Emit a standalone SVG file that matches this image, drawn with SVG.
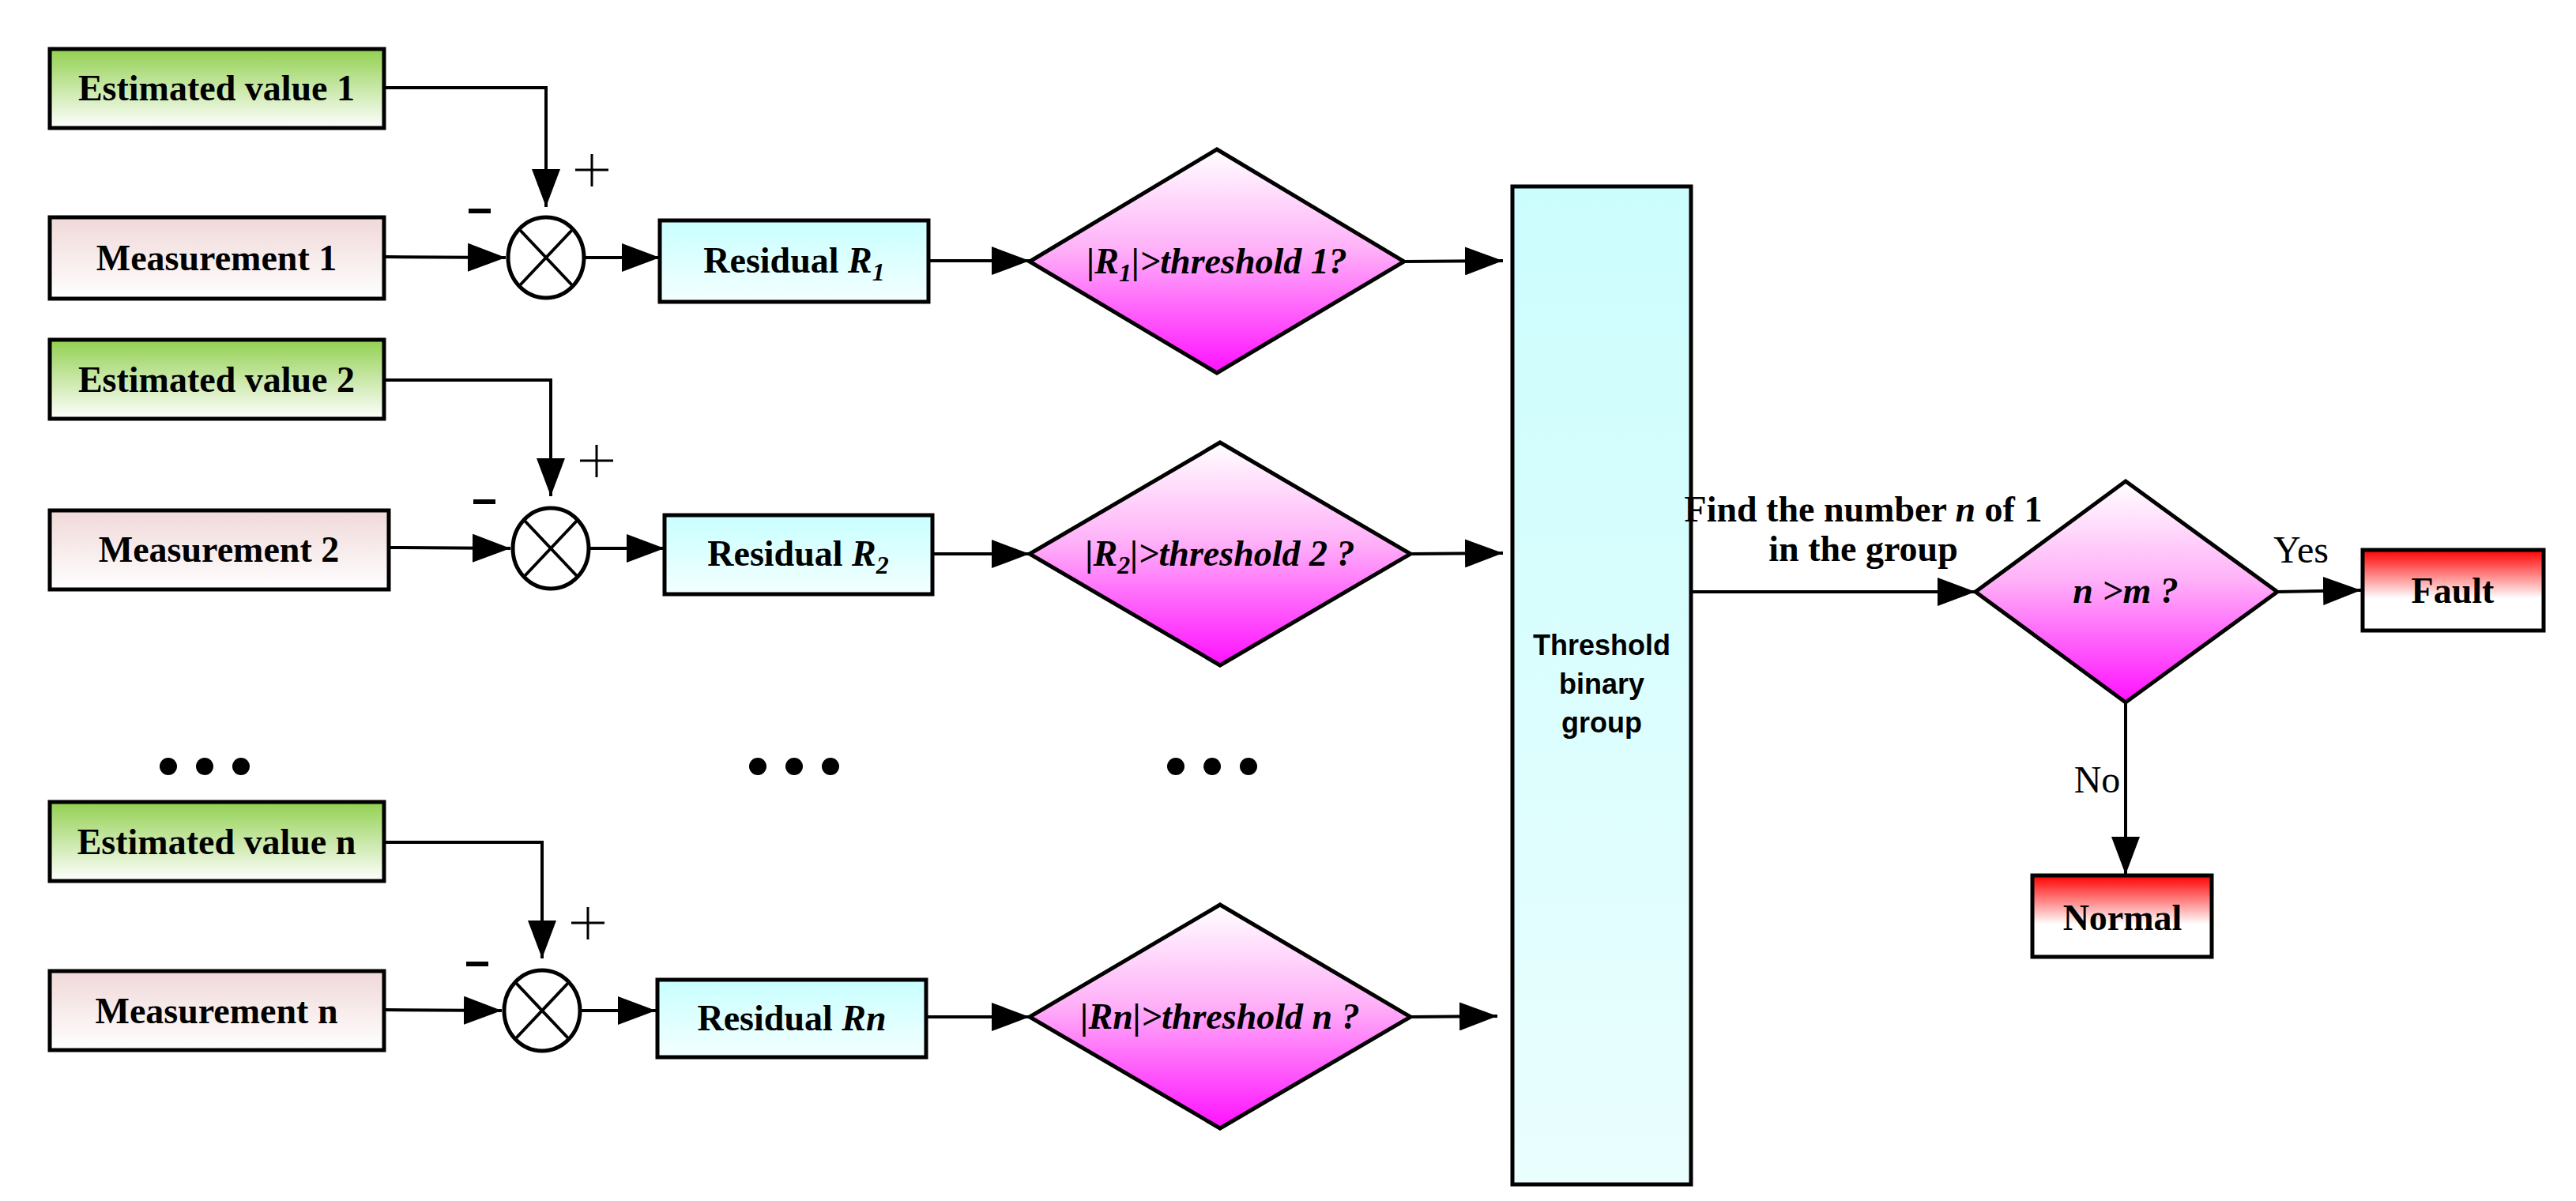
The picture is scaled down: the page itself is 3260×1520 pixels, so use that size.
<svg xmlns="http://www.w3.org/2000/svg" width="3260" height="1520" viewBox="0 0 3260 1520">
<defs>
<linearGradient id="gG" x1="0" y1="0" x2="0" y2="1"><stop offset="0" stop-color="#92d050"/><stop offset="1" stop-color="#ffffff"/></linearGradient>
<linearGradient id="gP" x1="0" y1="0" x2="0" y2="1"><stop offset="0" stop-color="#f0d8d8"/><stop offset="1" stop-color="#ffffff"/></linearGradient>
<linearGradient id="gC" x1="0" y1="0" x2="0" y2="1"><stop offset="0" stop-color="#c8ffff"/><stop offset="1" stop-color="#f4ffff"/></linearGradient>
<linearGradient id="gB" x1="0" y1="0" x2="0" y2="1"><stop offset="0" stop-color="#ccfdfd"/><stop offset="1" stop-color="#eafefe"/></linearGradient>
<linearGradient id="gM" x1="0" y1="0" x2="0" y2="1"><stop offset="0" stop-color="#ffffff"/><stop offset="0.45" stop-color="#ffb0f8"/><stop offset="1" stop-color="#ff10ff"/></linearGradient>
<linearGradient id="gR" x1="0" y1="0" x2="0" y2="1"><stop offset="0" stop-color="#ff0000"/><stop offset="0.6" stop-color="#ffffff"/><stop offset="1" stop-color="#ffffff"/></linearGradient>
<marker id="arw" viewBox="0 0 10 10" refX="10" refY="5" markerWidth="48" markerHeight="36" markerUnits="userSpaceOnUse" orient="auto" preserveAspectRatio="none"><path d="M0,0 L10,5 L0,10 z" fill="#000"/></marker>
</defs>
<style>
.b{stroke:#000;stroke-width:5}
.t{font-family:"Liberation Serif","Times New Roman",serif;font-weight:bold;font-size:46px;text-anchor:middle}
.i{font-style:italic}
.s{font-family:"Liberation Sans",Arial,sans-serif;font-weight:bold;font-size:36px;text-anchor:middle}
.n{font-family:"Liberation Serif","Times New Roman",serif;font-size:48px;text-anchor:middle}
.c line,.c path{stroke:#000;stroke-width:4;fill:none;marker-end:url(#arw)}
.x line{stroke:#000;stroke-width:4}
.pm{stroke:#000;stroke-width:3;fill:none}
.mn{stroke:#000;stroke-width:6;fill:none}
</style>
<rect width="3260" height="1520" fill="#fff"/>

<g class="c" id="connectors">
<path d="M486,111 H691 V262"/><line x1="486" y1="325" x2="640" y2="326"/><line x1="741" y1="326" x2="835" y2="326"/>
<line x1="1175" y1="330" x2="1303" y2="330"/><line x1="1777" y1="331" x2="1902" y2="330"/>
<path d="M486,481 H697 V628"/><line x1="492" y1="693" x2="646" y2="694"/><line x1="747" y1="694" x2="841" y2="694"/>
<line x1="1180" y1="701" x2="1303" y2="701"/><line x1="1785" y1="701" x2="1902" y2="700"/>
<path d="M486,1066 H686 V1213"/><line x1="486" y1="1278" x2="635" y2="1279"/><line x1="736" y1="1279" x2="830" y2="1279"/>
<line x1="1172" y1="1287" x2="1303" y2="1287"/><line x1="1785" y1="1287" x2="1895" y2="1286"/>
<line x1="2130" y1="749" x2="2500" y2="749"/><line x1="2882" y1="749" x2="2988" y2="747"/><line x1="2690" y1="889" x2="2690" y2="1107"/>
</g>

<g id="est1"><rect class="b" x="63" y="62" width="423" height="100" fill="url(#gG)"/><text class="t" x="274" y="127">Estimated value  1</text></g>
<g id="meas1"><rect class="b" x="63" y="275" width="423" height="103" fill="url(#gP)"/><text class="t" x="274" y="342">Measurement 1</text></g>
<g id="sum1" class="x"><ellipse class="b" cx="691" cy="326" rx="48" ry="51" fill="#fff"/><line x1="657" y1="290" x2="725" y2="362"/><line x1="725" y1="290" x2="657" y2="362"/><path class="pm" d="M728,215 H770 M749,195 V236"/><path class="mn" d="M593,267 H621"/></g>
<g id="res1"><rect class="b" x="835" y="279" width="340" height="103" fill="url(#gC)"/><text class="t" x="1005" y="345">Residual <tspan class="i">R</tspan><tspan class="i" font-size="32" dy="10">1</tspan></text></g>
<g id="dia1"><polygon class="b" points="1540,189 1777,331 1540,472 1303,331" fill="url(#gM)"/><text class="t i" x="1540" y="346">|R<tspan font-size="32" dy="10">1</tspan><tspan dy="-10">|&gt;threshold 1?</tspan></text></g>

<g id="est2"><rect class="b" x="63" y="430" width="423" height="100" fill="url(#gG)"/><text class="t" x="274" y="496">Estimated value  2</text></g>
<g id="meas2"><rect class="b" x="63" y="646" width="429" height="100" fill="url(#gP)"/><text class="t" x="277" y="711">Measurement 2</text></g>
<g id="sum2" class="x"><ellipse class="b" cx="697" cy="694" rx="48" ry="51" fill="#fff"/><line x1="663" y1="658" x2="731" y2="730"/><line x1="731" y1="658" x2="663" y2="730"/><path class="pm" d="M734,583 H776 M755,563 V604"/><path class="mn" d="M599,635 H627"/></g>
<g id="res2"><rect class="b" x="841" y="652" width="339" height="100" fill="url(#gC)"/><text class="t" x="1010" y="716">Residual <tspan class="i">R</tspan><tspan class="i" font-size="32" dy="10">2</tspan></text></g>
<g id="dia2"><polygon class="b" points="1544,560 1785,701 1544,842 1303,701" fill="url(#gM)"/><text class="t i" x="1544" y="716">|R<tspan font-size="32" dy="10">2</tspan><tspan dy="-10">|&gt;threshold 2 ?</tspan></text></g>

<g id="dots" fill="#000"><circle cx="213" cy="970" r="11"/><circle cx="259" cy="970" r="11"/><circle cx="305" cy="970" r="11"/><circle cx="959" cy="970" r="11"/><circle cx="1005" cy="970" r="11"/><circle cx="1051" cy="970" r="11"/><circle cx="1488" cy="970" r="11"/><circle cx="1534" cy="970" r="11"/><circle cx="1580" cy="970" r="11"/></g>

<g id="estn"><rect class="b" x="63" y="1015" width="423" height="100" fill="url(#gG)"/><text class="t" x="274" y="1081">Estimated value  n</text></g>
<g id="measn"><rect class="b" x="63" y="1229" width="423" height="100" fill="url(#gP)"/><text class="t" x="274" y="1295">Measurement n</text></g>
<g id="sumn" class="x"><ellipse class="b" cx="686" cy="1279" rx="48" ry="51" fill="#fff"/><line x1="652" y1="1243" x2="720" y2="1315"/><line x1="720" y1="1243" x2="652" y2="1315"/><path class="pm" d="M723,1168 H765 M744,1148 V1189"/><path class="mn" d="M590,1220 H618"/></g>
<g id="resn"><rect class="b" x="832" y="1240" width="340" height="98" fill="url(#gC)"/><text class="t" x="1002" y="1304">Residual <tspan class="i">Rn</tspan></text></g>
<g id="dian"><polygon class="b" points="1544,1145 1785,1287 1544,1428 1303,1287" fill="url(#gM)"/><text class="t i" x="1544" y="1302">|Rn|&gt;threshold n ?</text></g>

<g id="bar"><rect class="b" x="1914" y="236" width="226" height="1263" fill="url(#gB)"/><text class="s" x="2027" y="829">Threshold</text><text class="s" x="2027" y="878">binary</text><text class="s" x="2027" y="927">group</text></g>

<g id="label"><text class="t" x="2358" y="660" font-size="33">Find the number <tspan class="i">n</tspan> of 1</text><text class="t" x="2358" y="710" font-size="33">in the group</text></g>
<g id="dec"><polygon class="b" points="2690,609 2882,749 2690,889 2500,749" fill="url(#gM)"/><text class="t i" x="2690" y="763" font-size="40">n &gt;m ?</text></g>
<g id="fault"><rect class="b" x="2990" y="696" width="229" height="102" fill="url(#gR)"/><text class="t" x="3104" y="763">Fault</text></g>
<g id="normal"><rect class="b" x="2572" y="1108" width="227" height="103" fill="url(#gR)"/><text class="t" x="2686" y="1177">Normal</text></g>
<text class="n" x="2912" y="712">Yes</text>
<text class="n" x="2654" y="1003">No</text>
</svg>
